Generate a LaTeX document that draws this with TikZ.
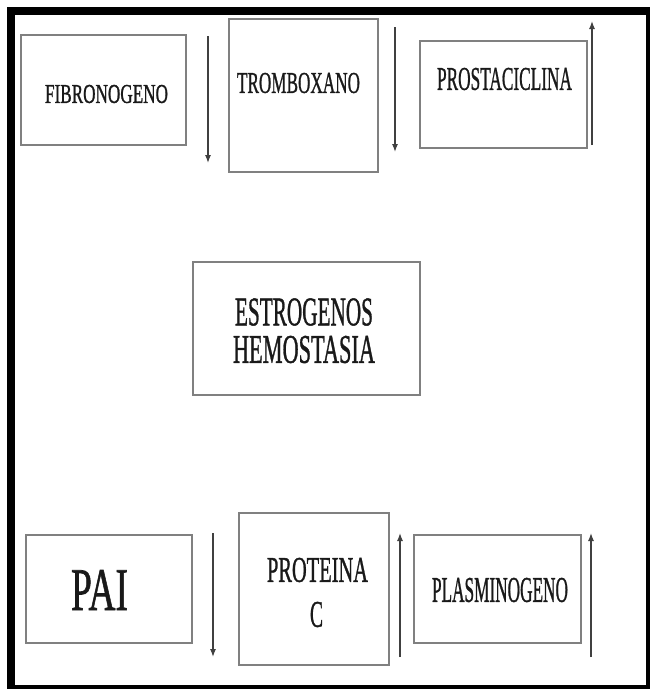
\documentclass[tikz,border=0pt]{standalone}
\usepackage{fontspec}
\setmainfont{Liberation Serif}
\newfontfamily\thk[FakeBold=1.2]{Liberation Serif}
\usetikzlibrary{arrows.meta}
\newcommand{\fitxt}[3]{\resizebox{#1pt}{#2pt}{\thk #3}}
\tikzset{
  box/.style={draw=black!50, line width=2pt, inner sep=0pt, outer sep=0pt, fill=white},
  lbl/.style={inner sep=0pt, outer sep=0pt, text=black!90},
  arr/.style={draw=black!75, line width=1.3pt, -{Latex[length=8pt,width=6pt]}}
}
\begin{document}
\begin{tikzpicture}[x=1pt,y=-1pt]
\useasboundingbox (0,0) rectangle (650,689);
\fill[white] (0,0) rectangle (650,689);
% outer frame
\fill[black] (7,7) rectangle (650,689);
\fill[white] (15,15) rectangle (646,685);
% boxes
\node[box, minimum width=165pt, minimum height=110pt] (fib) at (103.5,90) {};
\node[box, minimum width=149pt, minimum height=153pt] (trom) at (303.5,95.5) {};
\node[box, minimum width=167pt, minimum height=107pt] (prost) at (503.5,94.5) {};
\node[box, minimum width=227pt, minimum height=133pt] (estr) at (306.5,328.5) {};
\node[box, minimum width=166pt, minimum height=108pt] (pai) at (109,589) {};
\node[box, minimum width=150pt, minimum height=152pt] (prot) at (314,589) {};
\node[box, minimum width=167pt, minimum height=108pt] (plas) at (497.5,589) {};
% labels
\node[lbl] (fibt) at (106.5,94) {\fitxt{123}{18}{FIBRONOGENO}};
\node[lbl] (tromt) at (298.5,83) {\fitxt{123}{20}{TROMBOXANO}};
\node[lbl] (prostt) at (504.5,79) {\fitxt{135}{22}{PROSTACICLINA}};
\node[lbl] (estrt1) at (304,312) {\fitxt{138}{27}{ESTROGENOS}};
\node[lbl] (estrt2) at (304,349.5) {\fitxt{142}{27}{HEMOSTASIA}};
\node[lbl] (pait) at (99.5,590) {\fitxt{57}{40}{PAI}};
\node[lbl] (prott1) at (317.5,570) {\fitxt{101}{24}{PROTEINA}};
\node[lbl] (prott2) at (316.5,614.5) {\fitxt{13}{25}{C}};
\node[lbl] (plast) at (500,590) {\fitxt{136}{24}{PLASMINOGENO}};
% arrows
\coordinate (a1s) at (208,36);  \coordinate (a1e) at (208,163);
\coordinate (a2s) at (395,27);  \coordinate (a2e) at (395,152);
\coordinate (a3s) at (592,145); \coordinate (a3e) at (592,21);
\coordinate (a4s) at (213,533); \coordinate (a4e) at (213,657);
\coordinate (a5s) at (400,657); \coordinate (a5e) at (400,533);
\coordinate (a6s) at (591,657); \coordinate (a6e) at (591,533);
\draw[arr] (a1s) -- (a1e);
\draw[arr] (a2s) -- (a2e);
\draw[arr] (a3s) -- (a3e);
\draw[arr] (a4s) -- (a4e);
\draw[arr] (a5s) -- (a5e);
\draw[arr] (a6s) -- (a6e);
\end{tikzpicture}
\end{document}
